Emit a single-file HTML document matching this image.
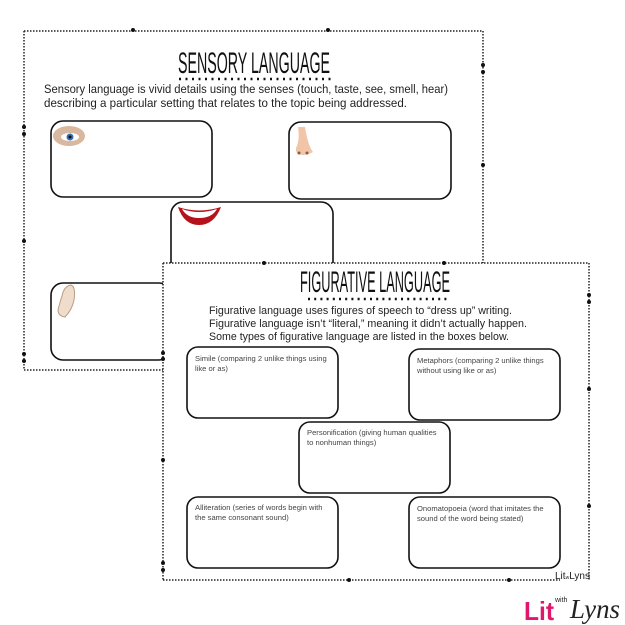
<!DOCTYPE html>
<html><head><meta charset="utf-8"><style>
html,body{margin:0;padding:0;background:#fff;}
svg{display:block;}
</style></head><body>
<svg width="625" height="625" viewBox="0 0 625 625" xmlns="http://www.w3.org/2000/svg" font-family="Liberation Sans, sans-serif">
<rect x="0" y="0" width="625" height="625" fill="#fff"/>
<g stroke="#222" stroke-width="1.5" stroke-dasharray="1.5 1.5" fill="none">
<line x1="24" y1="31" x2="483" y2="31"/>
<line x1="24" y1="31" x2="24" y2="370"/>
<line x1="483" y1="31" x2="483" y2="263"/>
<line x1="24" y1="370" x2="163" y2="370"/>
</g>
<g fill="#111">
<circle cx="133" cy="30" r="2"/><circle cx="328" cy="30" r="2"/>
<circle cx="24" cy="127" r="2"/><circle cx="24" cy="134" r="2"/><circle cx="24" cy="241" r="2"/><circle cx="24" cy="354" r="2"/><circle cx="24" cy="361" r="2"/>
<circle cx="483" cy="65" r="2"/><circle cx="483" cy="72" r="2"/><circle cx="483" cy="165" r="2"/>
</g>
<text x="178" y="73" font-family="Liberation Sans Narrow, Liberation Sans, sans-serif" font-size="30" textLength="152" lengthAdjust="spacingAndGlyphs" fill="#111">SENSORY LANGUAGE</text>
<line x1="179" y1="79" x2="333" y2="79" stroke="#111" stroke-width="2.5" stroke-dasharray="2 4.5"/>
<text x="44" y="93" font-size="12.3" fill="#222" textLength="404" lengthAdjust="spacingAndGlyphs">Sensory language is vivid details using the senses (touch, taste, see, smell, hear)</text>
<text x="44" y="107" font-size="12.3" fill="#222" textLength="363" lengthAdjust="spacingAndGlyphs">describing a particular setting that relates to the topic being addressed.</text>
<g fill="#fff" stroke="#111" stroke-width="1.6">
<rect x="51" y="121" width="161" height="76" rx="12"/>
<rect x="289" y="122" width="162" height="77" rx="12"/>
<rect x="171" y="202" width="162" height="80" rx="12"/>
<rect x="51" y="283" width="120" height="77" rx="12"/>
</g>
<ellipse cx="69" cy="136" rx="16" ry="10" fill="#d9b8a0"/>
<ellipse cx="70" cy="137" rx="9" ry="4" fill="#fff"/>
<circle cx="70" cy="137" r="3.5" fill="#3a6fb0"/><circle cx="70" cy="137" r="1.5" fill="#111"/>
<path d="M298 127 Q300 140 296 148 Q295 154 302 155 Q308 155 313 152 Q308 146 305 127 Z" fill="#f1c5a8"/>
<circle cx="299" cy="153" r="1.5" fill="#8a5a4a"/><circle cx="307" cy="153" r="1.5" fill="#8a5a4a"/>
<path d="M178 207 Q199 214 221 207 Q214 225 199 225 Q184 225 178 207 Z" fill="#b5121b"/>
<path d="M182 209 Q199 215 217 209 Q212 218 199 218 Q187 218 182 209 Z" fill="#fff"/>
<path d="M62 296 Q64 286 71 285 Q76 287 74 300 Q72 310 65 317 Q58 316 58 310 Q60 302 62 296 Z" fill="#f0dccb" stroke="#b89c85" stroke-width="1"/>
<rect x="163" y="263" width="426" height="317" fill="#fff"/>
<g stroke="#222" stroke-width="1.5" stroke-dasharray="1.5 1.5" fill="none">
<line x1="163" y1="263" x2="589" y2="263"/>
<line x1="163" y1="263" x2="163" y2="580"/>
<line x1="589" y1="263" x2="589" y2="580"/>
<line x1="163" y1="580" x2="560" y2="580"/>
</g>
<g fill="#111">
<circle cx="264" cy="263" r="2"/><circle cx="444" cy="263" r="2"/>
<circle cx="163" cy="353" r="2"/><circle cx="163" cy="359" r="2"/><circle cx="163" cy="460" r="2"/><circle cx="163" cy="563" r="2"/><circle cx="163" cy="570" r="2"/>
<circle cx="589" cy="295" r="2"/><circle cx="589" cy="302" r="2"/><circle cx="589" cy="389" r="2"/><circle cx="589" cy="506" r="2"/>
<circle cx="349" cy="580" r="2"/><circle cx="509" cy="580" r="2"/>
</g>
<text x="300" y="292" font-family="Liberation Sans Narrow, Liberation Sans, sans-serif" font-size="30" textLength="150" lengthAdjust="spacingAndGlyphs" fill="#111">FIGURATIVE LANGUAGE</text>
<line x1="308" y1="299" x2="450" y2="299" stroke="#111" stroke-width="2.5" stroke-dasharray="2 4.2"/>
<text x="209" y="314" font-size="11.3" fill="#222" textLength="303" lengthAdjust="spacingAndGlyphs">Figurative language uses figures of speech to “dress up” writing.</text>
<text x="209" y="327" font-size="11.3" fill="#222" textLength="318" lengthAdjust="spacingAndGlyphs">Figurative language isn’t “literal,” meaning it didn’t actually happen.</text>
<text x="209" y="340" font-size="11.3" fill="#222" textLength="300" lengthAdjust="spacingAndGlyphs">Some types of figurative language are listed in the boxes below.</text>
<g fill="#fff" stroke="#111" stroke-width="1.6">
<rect x="187" y="347" width="151" height="71" rx="11"/>
<rect x="409" y="349" width="151" height="71" rx="11"/>
<rect x="299" y="422" width="151" height="71" rx="11"/>
<rect x="187" y="497" width="151" height="71" rx="11"/>
<rect x="409" y="497" width="151" height="71" rx="11"/>
</g>
<g font-size="7.6" fill="#444">
<text x="195" y="361">Simile (comparing 2 unlike things using</text><text x="195" y="371">like or as)</text>
<text x="417" y="363">Metaphors (comparing 2 unlike things</text><text x="417" y="373">without using like or as)</text>
<text x="307" y="435">Personification (giving human qualities</text><text x="307" y="445">to nonhuman things)</text>
<text x="195" y="510">Alliteration (series of words begin with</text><text x="195" y="520">the same consonant sound)</text>
<text x="417" y="511">Onomatopoeia (word that imitates the</text><text x="417" y="521">sound of the word being stated)</text>
</g>
<text x="555" y="579" font-family="Liberation Sans Narrow, sans-serif" font-size="10" fill="#222">Lit<tspan font-size="5">w</tspan>Lyns</text>
<text x="524" y="620" font-family="Liberation Sans, sans-serif" font-weight="bold" font-size="26" fill="#e0186c" textLength="30" lengthAdjust="spacingAndGlyphs">Lit</text>
<text x="555" y="602" font-size="7" fill="#222">with</text>
<text x="570" y="618" font-family="Liberation Serif, serif" font-style="italic" font-size="27" fill="#222" textLength="50" lengthAdjust="spacingAndGlyphs">Lyns</text>
</svg>
</body></html>
